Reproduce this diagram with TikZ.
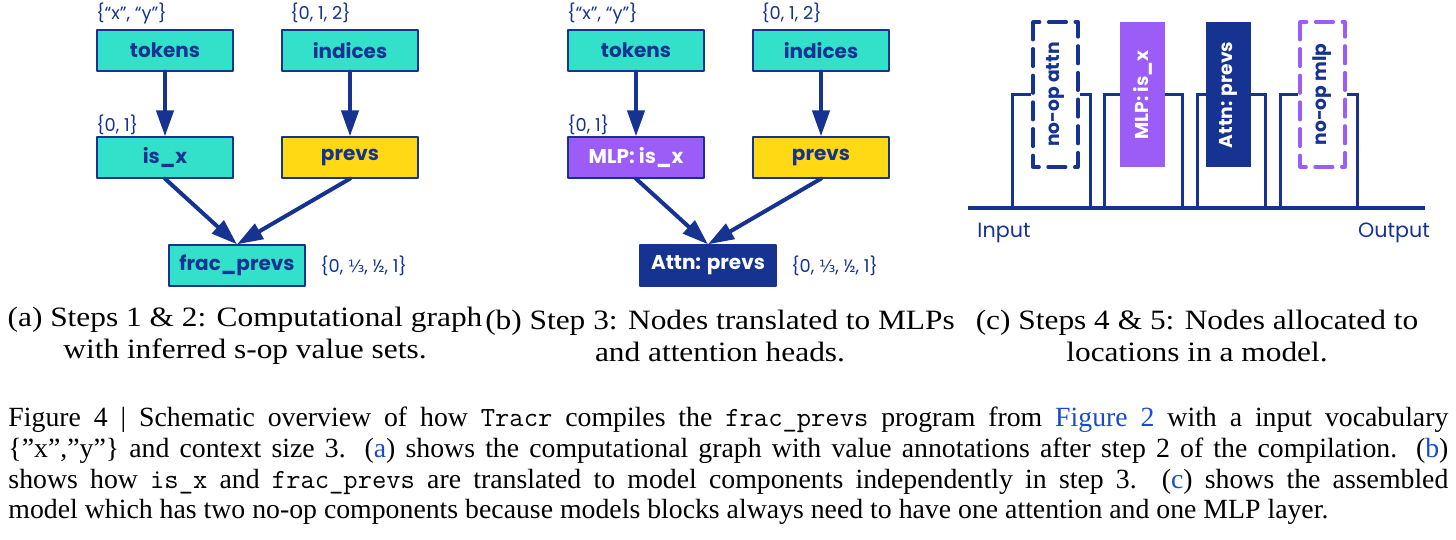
\documentclass[tikz,border=0pt]{standalone}
\usepackage{fontspec}
\usepackage{xcolor}
\usepackage{tikz}
\usetikzlibrary{arrows.meta}
\setmainfont{Liberation Serif}
\newfontfamily\poppins{Poppins}
\newfontfamily\fracfont{DejaVu Sans}
\newfontfamily\subcapfont[FakeStretch=1.12]{Liberation Serif}
\newcommand{\third}{{\fracfont\fontsize{7.6}{10}\selectfont ⅓}}
\definecolor{qqzzcc}{rgb}{0.2,0.88,0.79}
\definecolor{ffddqq}{rgb}{1.,0.85,0.08}
\definecolor{ccqqff}{rgb}{0.61,0.36,0.97}
\definecolor{qqttaa}{rgb}{0.09,0.2,0.57}
\definecolor{qqqqcc}{rgb}{0.1,0.3,0.8}
\tikzstyle{every node}=[font=\poppins\fontsize{9.3}{11}\selectfont]
\tikzstyle{opnode}=[draw=qqttaa,line width=0.6pt,minimum width=61.2pt,minimum height=18.45pt,inner sep=0pt,text=qqttaa,font=\poppins\bfseries\fontsize{9}{11}\selectfont]
\tikzstyle{setlabel}=[anchor=west,inner sep=0pt,text=qqttaa,font=\poppins\fontsize{8}{10}\selectfont]
\tikzstyle{flow}=[-{Triangle[width=7.7pt,length=11.7pt]},line width=1.8pt,color=qqttaa]
\tikzstyle{layer}=[rotate=90,minimum width=65.25pt,minimum height=20.25pt,inner sep=0pt,text=qqttaa,font=\poppins\bfseries\fontsize{8.4}{10}\selectfont]
\tikzstyle{noop}=[layer,dash pattern=on 8pt off 4pt,line width=1.5pt]
\tikzstyle{rail}=[line width=1.35pt,color=qqttaa,line join=miter,line cap=butt]
\tikzstyle{subcap}=[align=center,font=\subcapfont\fontsize{12.6}{14.4}\selectfont]
\tikzstyle{capline}=[anchor=west,inner sep=0pt,font=\fontsize{12.5}{14}\selectfont]

\begin{document}
\begin{tikzpicture}[line cap=round,line join=round,x=0.45pt,y=-0.45pt]
\useasboundingbox (0,0) rectangle (1456,540);
% (a) computational graph
\node [opnode,fill=qqzzcc] (tokens) at (165,50.5) {tokens};
\node [opnode,fill=qqzzcc] (indices) at (350,50.5) {indices};
\node [opnode,fill=qqzzcc] (isx) at (165,157.5) {is\_x};
\node [opnode,fill=ffddqq] (prevs) at (350,157.5) {prevs};
\node [opnode,fill=qqzzcc] (frac) at (237,265.5) {frac\_prevs};
\draw [flow] (tokens) -- (isx);
\draw [flow] (indices) -- (prevs);
\draw [flow] (isx.south) -- (frac.north);
\draw [flow] (prevs.south) -- (frac.north);
\node [setlabel] (tokset) at (96,13) {\{“x”, “y”\}};
\node [setlabel] (idxset) at (290,13) {\{0, 1, 2\}};
\node [setlabel] (isxset) at (96,125) {\{0, 1\}};
\node [setlabel] (fracset) at (320,266) {\{0, \third, ½, 1\}};
% (b) MLPs and attention heads
\node [opnode,fill=qqzzcc] (tokensb) at (636,50.5) {tokens};
\node [opnode,fill=qqzzcc] (indicesb) at (821,50.5) {indices};
\node [opnode,fill=ccqqff,text=white] (mlpisx) at (636,157.5) {MLP: is\_x};
\node [opnode,fill=ffddqq] (prevsb) at (821,157.5) {prevs};
\node [opnode,fill=qqttaa,text=white] (attnprevs) at (708,265.5) {Attn: prevs};
\draw [flow] (tokensb) -- (mlpisx);
\draw [flow] (indicesb) -- (prevsb);
\draw [flow] (mlpisx.south) -- (attnprevs.north);
\draw [flow] (prevsb.south) -- (attnprevs.north);
\node [setlabel] (toksetb) at (567,13) {\{“x”, “y”\}};
\node [setlabel] (idxsetb) at (761,13) {\{0, 1, 2\}};
\node [setlabel] (isxsetb) at (567,125) {\{0, 1\}};
\node [setlabel] (fracsetb) at (791,266) {\{0, \third, ½, 1\}};
% (c) layers of the model
\node [noop,draw=qqttaa] (noattn) at (1055.5,94.5) {no-op attn};
\node [layer,fill=ccqqff,text=white] (mlpc) at (1142.5,95) {MLP: is\_x};
\node [layer,fill=qqttaa,text=white] (attnc) at (1228.5,95) {Attn: prevs};
\node [noop,draw=ccqqff] (nomlp) at (1322.5,94.5) {no-op mlp};
\coordinate (input) at (968,208);
\coordinate (output) at (1425,208);
\coordinate (l1) at (1012,208);
\coordinate (r1) at (1090,208);
\coordinate (l2) at (1104,208);
\coordinate (r2) at (1182,208);
\coordinate (l3) at (1197,208);
\coordinate (r3) at (1265,208);
\coordinate (l4) at (1280,208);
\coordinate (r4) at (1357,208);
\draw [rail] (l1) |- (noattn.north);
\draw [rail] (noattn.south) -| (r1);
\draw [rail] (l2) |- (mlpc.north);
\draw [rail] (mlpc.south) -| (r2);
\draw [rail] (l3) |- (attnc.north);
\draw [rail] (attnc.south) -| (r3);
\draw [rail] (l4) |- (nomlp.north);
\draw [rail] (nomlp.south) -| (r4);
\draw [rail,line width=1.8pt] (input) -- (output);
\node [text=qqttaa] (intext) at (1004,233) {Input};
\node [text=qqttaa] (outtext) at (1394,233) {Output};
% captions
\node [subcap] (capa) at (245,336) {(a) Steps 1 \& 2: Computational graph\\with inferred s-op value sets.};
\node [subcap] (capb) at (720,336) {(b) Step 3: Nodes translated to MLPs\\and attention heads.};
\node [subcap] (capc) at (1197,336) {(c) Steps 4 \& 5: Nodes allocated to\\locations in a model.};
\node [capline] (cap1) at (8,420) {\makebox[648pt][s]{Figure 4 | Schematic overview of how \texttt{Tracr} compiles the \texttt{frac\_prevs} program from {\color{qqqqcc}Figure 2} with a input vocabulary}};
\node [capline] (cap2) at (8,451) {\makebox[648pt][s]{\{”x”,”y”\} and context size 3. ({\color{qqqqcc}a}) shows the computational graph with value annotations after step 2 of the compilation. ({\color{qqqqcc}b})}};
\node [capline] (cap3) at (8,482) {\makebox[648pt][s]{shows how \texttt{is\_x} and \texttt{frac\_prevs} are translated to model components independently in step 3. ({\color{qqqqcc}c}) shows the assembled}};
\node [capline] (cap4) at (8,512) {model which has two no-op components because models blocks always need to have one attention and one MLP layer.};
\end{tikzpicture}
\end{document}
